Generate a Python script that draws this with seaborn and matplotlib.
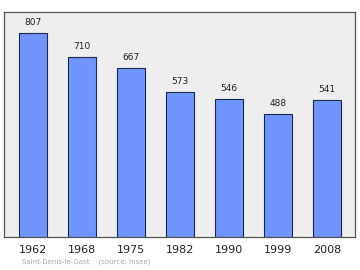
import matplotlib
matplotlib.use("Agg")
import matplotlib.pyplot as plt
import seaborn as sns
import pandas as pd

years = ["1962", "1968", "1975", "1982", "1990", "1999", "2008"]
population = [807, 710, 667, 573, 546, 488, 541]

sns.set_style("white")
plt.rcParams['font.family'] = ['DejaVu Sans']

df = pd.DataFrame({"year": years, "pop": population})

fig = plt.figure(figsize=(3.6, 2.7), dpi=100)
ax = fig.add_axes([0.012, 0.122, 0.975, 0.834])
ax.set_facecolor("#eeeeee")

sns.barplot(data=df, x="year", y="pop", color="#7095ff", width=0.58,
            edgecolor="#1a2a4a", linewidth=0.8, saturation=1, ax=ax)

for i, v in enumerate(population):
    ax.text(i, v + 24, str(v), ha="center", va="bottom", fontsize=6.5, color="#222222")

ax.set_xlim(-0.59, 6.58)
ax.set_ylim(0, 890)
ax.set_yticks([])
ax.set_xlabel("")
ax.set_ylabel("")
ax.tick_params(axis="x", length=0, labelsize=8, pad=5.5, colors="#222222")
for s in ax.spines.values():
    s.set_color("#555555")
    s.set_linewidth(0.9)

fig.text(0.061, 0.025, "Saint-Denis-le-Gast    (source: Insee)", fontsize=5, color="#aaaaaa")

fig.savefig("out.png", dpi=100)
